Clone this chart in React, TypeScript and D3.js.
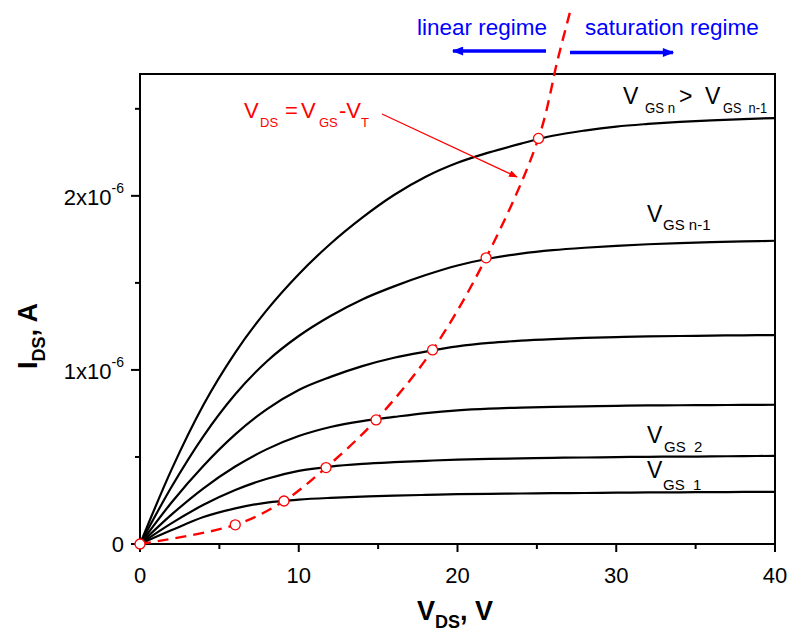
import React from 'react'
import * as d3 from 'd3'

// drain voltage samples (V) shared by all output curves
const VDS = [0, 2, 4, 6, 8, 10, 12, 14, 16, 18, 20, 22, 24, 26, 28, 30, 32, 34, 36, 38, 40]

// drain current in units of 1e-6 A, one array per gate voltage
const IGS1 = [0, 0.08, 0.155, 0.205, 0.238, 0.255, 0.265, 0.272, 0.278, 0.282, 0.286, 0.288, 0.29, 0.292, 0.293, 0.295, 0.296, 0.297, 0.298, 0.299, 0.3]
const IGS2 = [0, 0.12, 0.225, 0.31, 0.375, 0.42, 0.445, 0.46, 0.47, 0.478, 0.485, 0.489, 0.492, 0.495, 0.497, 0.499, 0.501, 0.502, 0.503, 0.505, 0.506]
const IGS3 = [0, 0.17, 0.32, 0.445, 0.545, 0.62, 0.672, 0.706, 0.73, 0.752, 0.768, 0.778, 0.784, 0.788, 0.791, 0.794, 0.796, 0.797, 0.798, 0.799, 0.8]
const IGS4 = [0, 0.24, 0.45, 0.63, 0.775, 0.885, 0.96, 1.022, 1.07, 1.105, 1.135, 1.155, 1.168, 1.177, 1.184, 1.189, 1.193, 1.195, 1.197, 1.199, 1.2]
const IGS5 = [0, 0.33, 0.62, 0.86, 1.05, 1.195, 1.31, 1.405, 1.48, 1.545, 1.6, 1.64, 1.668, 1.688, 1.702, 1.713, 1.722, 1.729, 1.734, 1.738, 1.742]
const IGS6 = [0, 0.43, 0.8, 1.1, 1.345, 1.55, 1.725, 1.875, 2.005, 2.11, 2.19, 2.25, 2.3, 2.345, 2.375, 2.398, 2.413, 2.425, 2.434, 2.441, 2.447]

// saturation locus V_DS = V_GS - V_T
const LOCUS_V = [0, 6, 9.07, 11.72, 14.87, 18.43, 21.8, 25.1, 26.33, 27.1]
const LOCUS_I = [0, 0.11, 0.247, 0.439, 0.713, 1.115, 1.644, 2.33, 2.79, 3.06]
const LOCUS_MARKED = 8

const X_TICKS = [0, 10, 20, 30, 40]
const X_MINOR = [5, 15, 25, 35]
const Y_TICKS = [0, 1, 2]
const Y_MINOR = [0.5, 1.5, 2.5]
const Y_TICK_LABELS = ['0', '1x10', '2x10']

const FONT = "'Liberation Sans', Arial, Helvetica, sans-serif"

const frame = { left: 140, right: 775, top: 74, bottom: 544 }

const pre = { whiteSpace: 'pre' as const }

export default function App() {
  const x = d3.scaleLinear().domain([0, 40]).range([frame.left, frame.right])
  const y = d3.scaleLinear().domain([0, 2.7]).range([frame.bottom, frame.top])

  const curveLine = d3.line<number>()
    .x((_, i) => x(VDS[i]))
    .y(d => y(d))
    .curve(d3.curveMonotoneX)

  const locusLine = d3.line<number>()
    .x((_, i) => x(LOCUS_V[i]))
    .y(d => y(d))
    .curve(d3.curveCatmullRom)

  const series = [IGS1, IGS2, IGS3, IGS4, IGS5, IGS6]

  return (
    <svg width={795} height={637} style={{ position: 'absolute', left: 0, top: 0, background: '#fff' }} fontFamily={FONT}>
      <defs>
        <marker id="blueHead" viewBox="0 0 10 8" refX="9" refY="4" markerWidth="13" markerHeight="9" markerUnits="userSpaceOnUse" orient="auto">
          <path d="M0,0 L10,4 L0,8 z" fill="#0000ff" />
        </marker>
        <marker id="redHead" viewBox="0 0 10 8" refX="9" refY="4" markerWidth="10" markerHeight="7" markerUnits="userSpaceOnUse" orient="auto">
          <path d="M0,0 L10,4 L0,8 z" fill="#ff0000" />
        </marker>
      </defs>

      {/* output curves */}
      {series.map((s, i) => (
        <path key={i} d={curveLine(s) || ''} fill="none" stroke="#000" strokeWidth={2.2} />
      ))}

      {/* frame */}
      <rect x={frame.left} y={frame.top} width={frame.right - frame.left} height={frame.bottom - frame.top}
        fill="none" stroke="#000" strokeWidth={2} />

      {/* x ticks */}
      {X_TICKS.map(t => (
        <g key={'x' + t}>
          <line x1={x(t)} x2={x(t)} y1={frame.bottom} y2={frame.bottom + 8} stroke="#000" strokeWidth={2} />
          <text x={x(t)} y={583} fontSize={22} textAnchor="middle">{t}</text>
        </g>
      ))}
      {X_MINOR.map(t => (
        <line key={'xm' + t} x1={x(t)} x2={x(t)} y1={frame.bottom} y2={frame.bottom + 5} stroke="#000" strokeWidth={2} />
      ))}

      {/* y ticks */}
      {Y_TICKS.map((t, i) => (
        <g key={'y' + t}>
          <line x1={frame.left - 9} x2={frame.left} y1={y(t)} y2={y(t)} stroke="#000" strokeWidth={2} />
          {t === 0 ? (
            <text x={124} y={y(t) + 8} fontSize={22} textAnchor="end">0</text>
          ) : (
            <text x={124} y={y(t) + 9} fontSize={22} textAnchor="end">
              {Y_TICK_LABELS[i]}
              <tspan fontSize={14} dy={-12}>-6</tspan>
            </text>
          )}
        </g>
      ))}
      {Y_MINOR.map(t => (
        <line key={'ym' + t} x1={frame.left - 5} x2={frame.left} y1={y(t)} y2={y(t)} stroke="#000" strokeWidth={2} />
      ))}

      {/* axis titles */}
      <text x={455} y={620} fontSize={27} fontWeight="bold" textAnchor="middle">
        V<tspan fontSize={18} dy={8}>DS</tspan><tspan dy={-8}>, V</tspan>
      </text>
      <text transform="translate(37,336) rotate(-90)" fontSize={27} fontWeight="bold" textAnchor="middle">
        I<tspan fontSize={18} dy={8}>DS</tspan><tspan dy={-8}>, A</tspan>
      </text>

      {/* saturation locus */}
      <path d={locusLine(LOCUS_I) || ''} fill="none" stroke="#ff0000" strokeWidth={2.4} strokeDasharray="11 7" />
      {LOCUS_I.slice(0, LOCUS_MARKED).map((d, i) => (
        <circle key={'c' + i} cx={x(LOCUS_V[i])} cy={y(d)} r={5} fill="#fff" stroke="#ff0000" strokeWidth={1.3} />
      ))}

      {/* formula annotation */}
      <g fill="#ff0000">
        <text x={244} y={118} fontSize={22}>V</text>
        <text x={260} y={127} fontSize={13}>DS</text>
        <text x={285} y={118} fontSize={22}>=</text>
        <text x={301} y={118} fontSize={22}>V</text>
        <text x={319} y={127} fontSize={13}>GS</text>
        <text x={339} y={118} fontSize={22}>-V</text>
        <text x={361} y={127} fontSize={13}>T</text>
      </g>
      <line x1={382} y1={114} x2={517} y2={177} stroke="#ff0000" strokeWidth={1.3} markerEnd="url(#redHead)" />

      {/* regime labels */}
      <text x={417} y={35} fontSize={22.5} fill="#0000ff">linear regime</text>
      <text x={585} y={35} fontSize={22.5} fill="#0000ff">saturation regime</text>
      <line x1={546} y1={51} x2={453} y2={51} stroke="#0000ff" strokeWidth={3.5} markerEnd="url(#blueHead)" />
      <line x1={570} y1={52.5} x2={673} y2={52.5} stroke="#0000ff" strokeWidth={3.5} markerEnd="url(#blueHead)" />

      {/* curve labels */}
      <g fontSize={23}>
        <text x={623} y={104}>V</text>
        <text x={645} y={113} fontSize={15} textLength={30} lengthAdjust="spacingAndGlyphs" style={pre} xmlSpace="preserve">GS n</text>
        <text x={679} y={104}>&gt;</text>
        <text x={705} y={104}>V</text>
        <text x={723} y={113} fontSize={15} textLength={44} lengthAdjust="spacingAndGlyphs" style={pre} xmlSpace="preserve">GS  n-1</text>

        <text x={647} y={222}>V</text>
        <text x={663} y={230} fontSize={15}>GS n-1</text>

        <text x={647} y={443}>V</text>
        <text x={664} y={452} fontSize={15} style={pre} xmlSpace="preserve">GS  2</text>

        <text x={647} y={478}>V</text>
        <text x={663} y={490} fontSize={15} style={pre} xmlSpace="preserve">GS  1</text>
      </g>
    </svg>
  )
}
